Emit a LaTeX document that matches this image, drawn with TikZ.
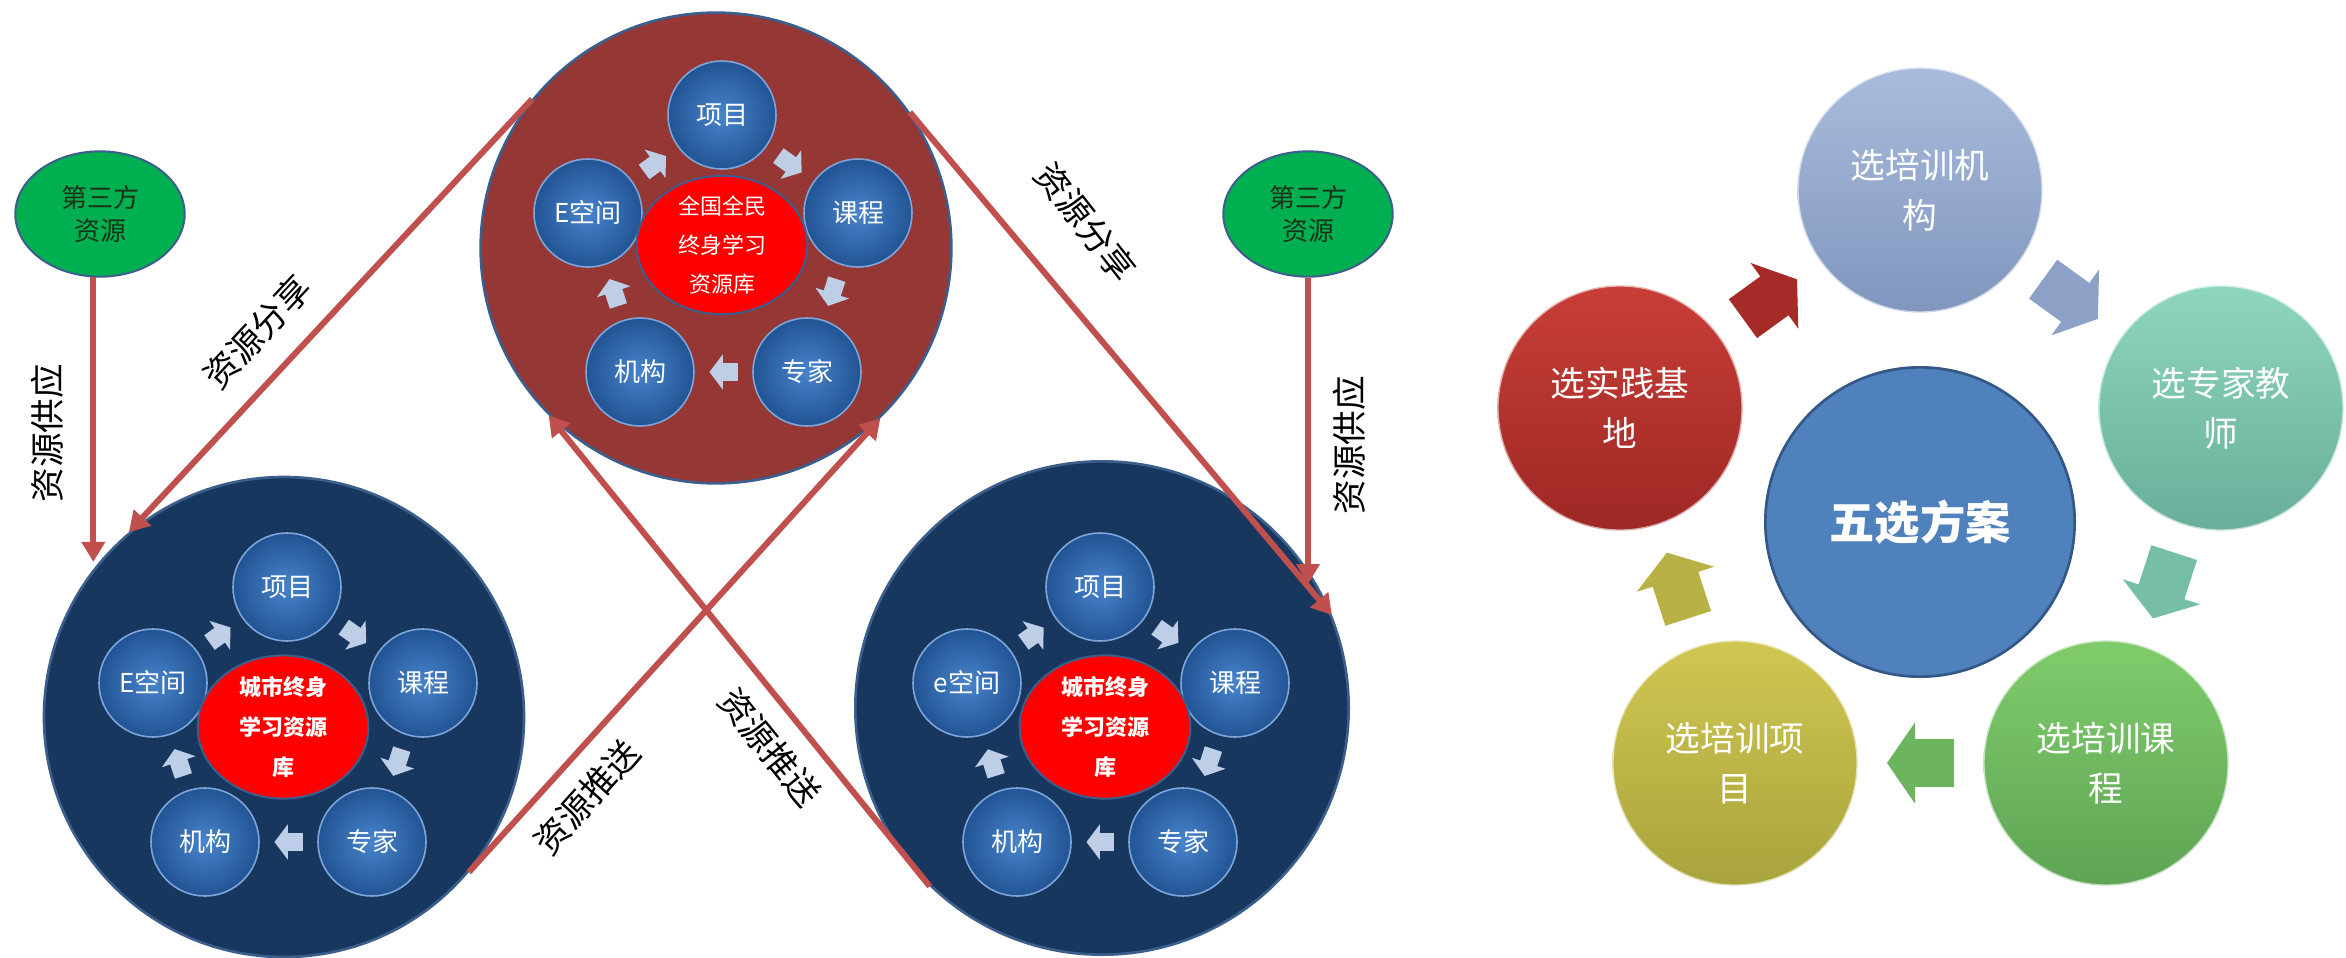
\documentclass[tikz,border=0pt]{standalone}
\usepackage{fontspec}
\setmainfont{Noto Sans CJK SC}
\usepackage{tikz}
\usetikzlibrary{shapes.geometric,arrows.meta}

\definecolor{rimblue}{RGB}{60,94,140}
\definecolor{navyfill}{RGB}{23,55,94}
\definecolor{brickfill}{RGB}{149,55,53}
\definecolor{linkred}{RGB}{192,80,77}
\definecolor{chevfill}{RGB}{190,206,230}
\definecolor{btninner}{RGB}{72,132,204}
\definecolor{btnouter}{RGB}{34,84,148}
\definecolor{btnrim}{RGB}{125,165,218}
\definecolor{srcgreen}{RGB}{0,176,80}
\definecolor{srctext}{RGB}{25,50,25}
\definecolor{planfill}{RGB}{79,129,189}
\definecolor{planrim}{RGB}{52,88,134}
\definecolor{jdtop}{RGB}{200,62,56}
\definecolor{jdbot}{RGB}{158,40,36}
\definecolor{jgtop}{RGB}{170,188,220}
\definecolor{jgbot}{RGB}{128,150,190}
\definecolor{zjtop}{RGB}{142,214,192}
\definecolor{zjbot}{RGB}{104,174,154}
\definecolor{kctop}{RGB}{128,204,108}
\definecolor{kcbot}{RGB}{94,164,84}
\definecolor{xmtop}{RGB}{208,198,82}
\definecolor{xmbot}{RGB}{168,164,60}

\begin{document}
\begin{tikzpicture}[x=0.75pt,y=0.75pt,yscale=-1,xscale=1,
    bigring/.style={circle,draw=rimblue,line width=2pt,inner sep=0pt},
    btn/.style={circle,minimum size=81pt,inner sep=0pt,inner color=btninner,outer color=btnouter,draw=btnrim,line width=1.2pt,text=white,font=\fontsize{19.5pt}{23pt}\selectfont},
    hub/.style={ellipse,fill=red,draw=rimblue,line width=1.5pt,minimum width=128pt,minimum height=90pt,inner sep=0pt,text=white,align=center},
    chev/.style={chevfill,line width=13.5pt,-{Triangle[length=10pt,width=26pt]},shorten <=11pt,shorten >=11pt},
    link/.style={linkred,line width=4.5pt,-{Triangle[length=15pt,width=17pt]}},
    tag/.style={inner sep=0pt,font=\fontsize{26pt}{30pt}\selectfont},
    src/.style={ellipse,fill=srcgreen,draw=rimblue,line width=1.5pt,minimum width=127pt,minimum height=94pt,inner sep=0pt,align=center,text=srctext,font=\fontsize{19.5pt}{25pt}\selectfont},
    ball/.style={circle,minimum size=184pt,inner sep=0pt,draw=white,draw opacity=0.6,line width=2pt,text=white,align=center,font=\fontsize{26pt}{37.5pt}\selectfont},
    flow/.style={line width=36pt,-{Triangle[length=21pt,width=60pt]},shorten <=21pt,shorten >=21pt}
  ]
  \useasboundingbox (0,0) rectangle (2346,957);
  \fill[white] (0,0) rectangle (2346,957);

  %Shape: Circle (national library)
  \node[bigring,fill=brickfill,minimum size=353pt] (top) at (716,248) {};
  \node[btn] (t-xm) at (722,115) {项目};
  \node[btn] (t-kc) at (858,213) {课程};
  \node[btn] (t-zj) at (807,372) {专家};
  \node[btn] (t-jg) at (640,372) {机构};
  \node[btn] (t-ek) at (588,213) {E空间};
  % Text Node
  \node[hub,minimum height=94pt,font=\fontsize{16.5pt}{29pt}\selectfont] (t-hub) at (722,245) {全国全民\\终身学习\\资源库};
  \draw[chev] (t-ek) -- (t-xm);
  \draw[chev] (t-xm) -- (t-kc);
  \draw[chev] (t-kc) -- (t-zj);
  \draw[chev] (t-zj) -- (t-jg);
  \draw[chev] (t-jg) -- (t-ek);

  %Shape: Circle (city library, left)
  \node[bigring,fill=navyfill,minimum size=360pt] (bl) at (284,717) {};
  \node[btn] (l-xm) at (287,587) {项目};
  \node[btn] (l-kc) at (423,683) {课程};
  \node[btn] (l-zj) at (372,842) {专家};
  \node[btn] (l-jg) at (205,842) {机构};
  \node[btn] (l-ek) at (153,683) {E空间};
  % Text Node
  \node[hub,font=\bfseries\fontsize{16.5pt}{30pt}\selectfont] (l-hub) at (283,727) {城市终身\\学习资源\\库};
  \draw[chev] (l-ek) -- (l-xm);
  \draw[chev] (l-xm) -- (l-kc);
  \draw[chev] (l-kc) -- (l-zj);
  \draw[chev] (l-zj) -- (l-jg);
  \draw[chev] (l-jg) -- (l-ek);

  %Shape: Circle (city library, right)
  \node[bigring,fill=navyfill,minimum size=370pt] (br) at (1102,708) {};
  \node[btn] (r-xm) at (1100,587) {项目};
  \node[btn] (r-kc) at (1235,683) {课程};
  \node[btn] (r-zj) at (1183,842) {专家};
  \node[btn] (r-jg) at (1017,842) {机构};
  \node[btn] (r-ek) at (967,683) {e空间};
  % Text Node
  \node[hub,font=\bfseries\fontsize{16.5pt}{30pt}\selectfont] (r-hub) at (1105,727) {城市终身\\学习资源\\库};
  \draw[chev] (r-ek) -- (r-xm);
  \draw[chev] (r-xm) -- (r-kc);
  \draw[chev] (r-kc) -- (r-zj);
  \draw[chev] (r-zj) -- (r-jg);
  \draw[chev] (r-jg) -- (r-ek);

  %Shape: Ellipse (third party)
  \node[src] (srcL) at (100,214) {第三方\\资源};
  \node[src] (srcR) at (1308,214) {第三方\\资源};

  %Straight Lines
  \draw[link] (srcL.264) -- (srcL.264 |- bl.140);
  \draw[link] (srcR.south) -- (srcR.south |- br.30);
  \draw[link] (top.141) -- (bl.130);
  \draw[link] (top.35) -- (br.22);
  \draw[link] (bl.-40) -- (top.-46);
  \draw[link] (br.-134) -- (top.-135);

  % Text Node
  \node[tag,rotate=90] (supL) at (47,433) {资源供应};
  \node[tag,rotate=47] (shareL) at (257,332) {资源分享};
  \node[tag,rotate=-52] (shareR) at (1086,222) {资源分享};
  \node[tag,rotate=48] (pushL) at (587,797) {资源推送};
  \node[tag,rotate=-51] (pushR) at (770,747) {资源推送};
  \node[tag,rotate=90] (supR) at (1349,445) {资源供应};

  %Shape: Circle (five choices)
  \node[circle,fill=planfill,draw=planrim,line width=2pt,minimum size=232pt,inner sep=0pt,text=white,font=\bfseries\fontsize{34pt}{40pt}\selectfont] (plan) at (1920,522) {五选方案};
  \node[ball,top color=jdtop,bottom color=jdbot] (s-jd) at (1620,408) {选实践基\\地};
  \node[ball,top color=jgtop,bottom color=jgbot] (s-jg) at (1920,190) {选培训机\\构};
  \node[ball,top color=zjtop,bottom color=zjbot] (s-zj) at (2221,408) {选专家教\\师};
  \node[ball,top color=kctop,bottom color=kcbot] (s-kc) at (2106,763) {选培训课\\程};
  \node[ball,top color=xmtop,bottom color=xmbot] (s-xm) at (1735,763) {选培训项\\目};

  %Block arrows
  \draw[flow,jdbot!85!jdtop] (s-jd) -- (s-jg);
  \draw[flow,jgbot!70!jgtop] (s-jg) -- (s-zj);
  \draw[flow,zjbot!60!zjtop] (s-zj) -- (s-kc);
  \draw[flow,kcbot!60!kctop] (s-kc) -- (s-xm);
  \draw[flow,xmbot!60!xmtop] (s-xm) -- (s-jd);

\end{tikzpicture}
\end{document}
